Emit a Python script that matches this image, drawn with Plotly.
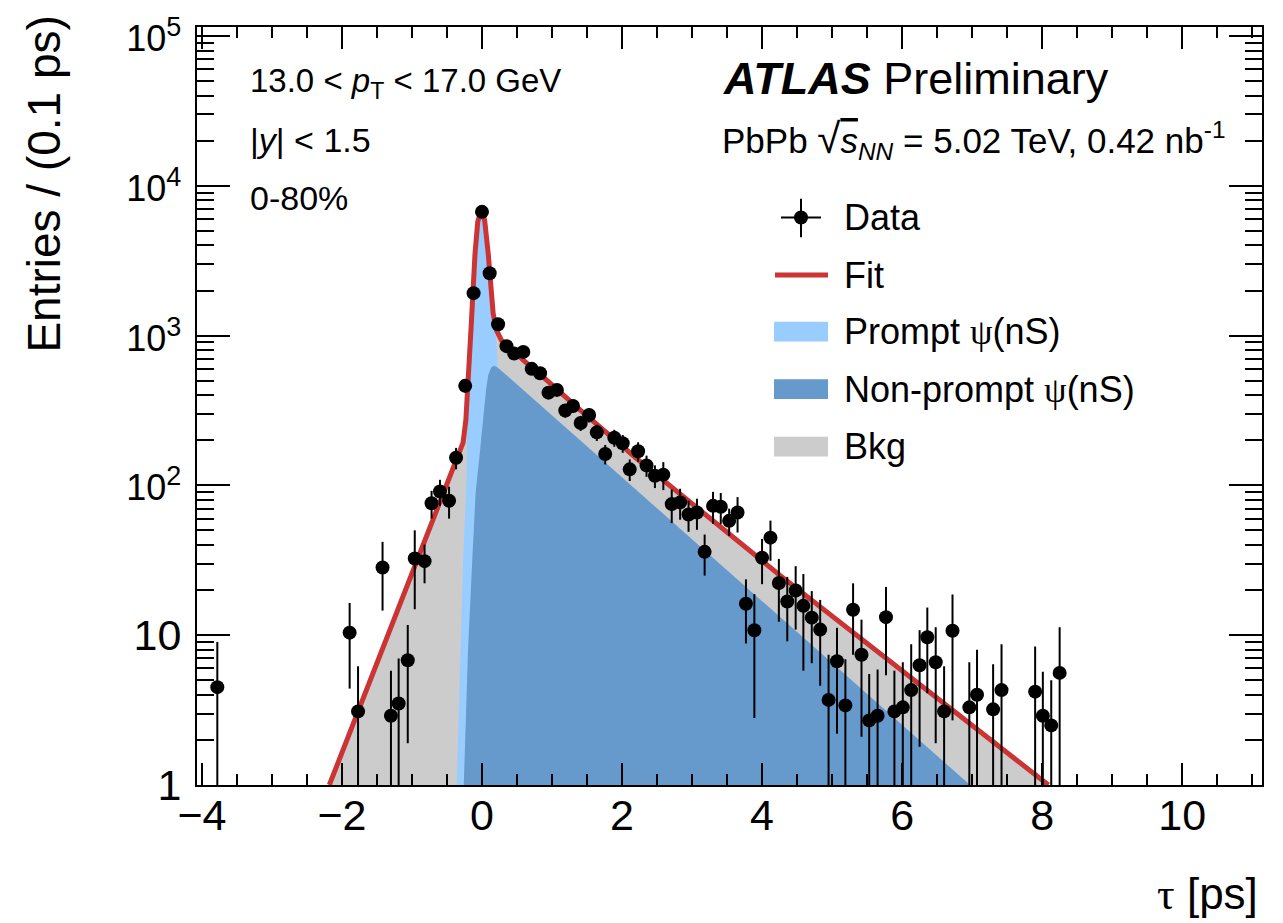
import plotly.graph_objects as go

# ---------------- data ----------------
tau = [-3.78, -1.89, -1.77, -1.42, -1.30, -1.19, -1.06, -0.96, -0.82, -0.72,
       -0.60, -0.47, -0.37, -0.24, -0.12, 0.00, 0.11, 0.23, 0.35, 0.46,
       0.59, 0.71, 0.83, 0.95, 1.07, 1.19, 1.30, 1.41, 1.53, 1.64,
       1.76, 1.89, 2.01, 2.11, 2.23, 2.35, 2.47, 2.59, 2.71, 2.83,
       2.95, 3.07, 3.18, 3.30, 3.41, 3.53, 3.65, 3.77, 3.89, 4.00,
       4.12, 4.24, 4.36, 4.48, 4.59, 4.71, 4.83, 4.95, 5.07, 5.19,
       5.30, 5.42, 5.53, 5.65, 5.77, 5.89, 6.01, 6.13, 6.25, 6.36,
       6.48, 6.60, 6.72, 6.96, 7.07, 7.30, 7.42, 7.90, 8.01, 8.13, 8.25]
counts = [4.5, 10.4, 3.1, 28.3, 2.9, 3.5, 6.8, 32.5, 31.2, 76,
          91, 79, 153, 462, 1920, 6700, 2610, 1190, 850, 760,
          778, 600, 560, 416, 434, 316, 339, 261, 295, 226,
          162, 208, 191, 128, 169, 136, 116, 118, 75, 77,
          64, 66, 36, 73, 72, 58, 66, 16.2, 10.8, 32.9,
          44.8, 22.3, 16.8, 19.9, 15.7, 13.1, 10.9, 3.7, 6.7, 3.4,
          14.8, 7.4, 2.7, 2.9, 13.2, 3.1, 3.3, 4.3, 6.3, 9.7,
          6.6, 3.1, 10.7, 3.3, 4.0, 3.2, 4.3, 4.2, 2.9, 2.5, 5.6]
errors = [4.5, 6.0, 3.1, 13.7, 2.9, 3.5, 4.9, 17.6, 9.0, 16,
          18, 19, 25, 45, 90, 170, 110, 70, 55, 52,
          52, 45, 43, 38, 38, 33, 34, 30, 32, 28,
          24, 27, 26, 21, 25, 22, 20, 25, 19, 18,
          15, 15.5, 11, 17.5, 17, 12, 17.5, 7.4, 8, 11,
          13.4, 10, 7.7, 9, 9.9, 6.6, 6.3, 3.7, 4.5, 3.5,
          7.4, 5.3, 2.8, 3.0, 7.8, 2.7, 3.3, 4.4, 4.5, 5.6,
          4.7, 3.1, 8.0, 3.3, 4.0, 3.2, 4.4, 4.2, 2.8, 2.5, 5.7]

# total fit (red) curve
fit_tau = [-2.18, -0.45, -0.36, -0.27, -0.23, -0.20, -0.15, -0.10, -0.06, 0.00,
           0.04, 0.09, 0.12, 0.16, 0.21, 0.28, 0.40, 0.59, 0.92, 1.40, 2.21, 4.26, 8.09]
fit_val = [1.0, 120, 149, 193, 274, 459, 1257, 3491, 5777, 7040,
           5777, 3491, 2112, 1399, 1079, 927, 841, 686, 506, 319, 151, 25, 1.0]
# prompt + non-prompt signal (light blue)
sig_tau = [-0.36, -0.31, -0.27, -0.22, -0.21, -0.19, -0.15, -0.10, -0.06, 0.00,
           0.04, 0.09, 0.12, 0.16, 0.19, 0.225, 0.26, 6.97]
sig_val = [1.0, 6.7, 30.9, 113, 261, 459, 1257, 3491, 5777, 7040,
           5777, 3491, 2112, 1399, 1164, 620, 591, 1.0]
# non-prompt (dark blue)
np_tau = [-0.26, -0.20, -0.14, -0.09, -0.04, 0.00, 0.03, 0.06, 0.09, 0.13,
          0.17, 0.21, 0.26, 6.97]
np_val = [1.0, 7.8, 30.9, 90, 150, 220, 320, 440, 545, 610,
          630, 618, 592, 1.0]

x_ticks = [-4, -2, 0, 2, 4, 6, 8, 10]
y_ticks = [1, 10, 100, 1000, 10000, 100000]
y_exp = ["", "", "2", "3", "4", "5"]

# ---------------- layout geometry ----------------
W, H = 1283, 923
L, R, T, B = 197, 1262, 21, 785
FONT = "Liberation Sans"
SER = "Liberation Serif"


def px(xp):
    return (xp - L) / (R - L)


def py(yp):
    return (B - yp) / (B - T)


def ylabel(v, e):
    if not e:
        return str(v)
    return ("<span style='font-size:36px'>10<sup><span style='font-size:27px'>%s</span></sup></span>" % e)


y_ticktext = [ylabel(v, e) for v, e in zip(y_ticks, y_exp)]

fig = go.Figure()
fig.add_trace(go.Scatter(x=fit_tau, y=fit_val, mode="lines", line=dict(width=0, color="#cccccc"),
                         fill="tozeroy", fillcolor="#cccccc", hoverinfo="skip", showlegend=False))
fig.add_trace(go.Scatter(x=sig_tau, y=sig_val, mode="lines", line=dict(width=0, color="#99ccff"),
                         fill="tozeroy", fillcolor="#99ccff", hoverinfo="skip", showlegend=False))
fig.add_trace(go.Scatter(x=np_tau, y=np_val, mode="lines", line=dict(width=0, color="#6699cc"),
                         fill="tozeroy", fillcolor="#6699cc", hoverinfo="skip", showlegend=False))
fig.add_trace(go.Scatter(x=fit_tau, y=fit_val, mode="lines", line=dict(width=5, color="#cc3333"),
                         showlegend=False))
fig.add_trace(go.Scatter(x=tau, y=counts, mode="markers",
                         marker=dict(color="black", size=14),
                         error_y=dict(type="data", array=errors, color="black", thickness=2, width=0),
                         showlegend=False))

minor_y = [m * 10 ** e for e in range(0, 5) for m in range(2, 10)]

fig.update_layout(
    width=W, height=H, autosize=False,
    margin=dict(l=L, r=W - R, t=T, b=H - B),
    paper_bgcolor="white", plot_bgcolor="white",
    font=dict(family=FONT, color="black"),
    showlegend=False,
    xaxis=dict(range=[-4.07, 11.14], tickmode="array", tickvals=x_ticks,
               ticks="inside", ticklen=22, tickwidth=2, tickcolor="black",
               showline=True, linewidth=2, linecolor="black", mirror="allticks",
               showgrid=False, zeroline=False, tickfont=dict(size=43, family=FONT),
               ticklabelstandoff=-9,
               minor=dict(dtick=0.5, tick0=0, ticks="inside", ticklen=11, tickwidth=2,
                          tickcolor="black", showgrid=False)),
    yaxis=dict(type="log", range=[0, 5.06], tickmode="array", tickvals=y_ticks, ticktext=y_ticktext,
               ticks="inside", ticklen=33, tickwidth=2, tickcolor="black",
               showline=True, linewidth=2, linecolor="black", mirror="allticks",
               showgrid=False, zeroline=False, tickfont=dict(size=43, family=FONT),
               ticklabelstandoff=5,
               minor=dict(tickmode="array", tickvals=minor_y, ticks="inside", ticklen=17,
                          tickwidth=2, tickcolor="black", showgrid=False)),
)

ann = []
ann.append(dict(text="Entries / (0.1 ps)", x=px(44), y=py(8), xanchor="center", yanchor="top",
                textangle=-90, font=dict(size=46)))
ann.append(dict(text="<span style='font-family:%s'>τ</span> [ps]" % SER, x=px(1260), y=py(895),
                xanchor="right", yanchor="middle", font=dict(size=44)))
ann.append(dict(text="13.0 &lt; <i>p</i><sub>T</sub> &lt; 17.0 GeV", x=px(248), y=py(77),
                xanchor="left", yanchor="middle", font=dict(size=33)))
ann.append(dict(text="|<i>y</i>| &lt; 1.5", x=px(248), y=py(135),
                xanchor="left", yanchor="middle", font=dict(size=34)))
ann.append(dict(text="0-80%", x=px(248), y=py(193),
                xanchor="left", yanchor="middle", font=dict(size=34)))
ann.append(dict(text="<b><i>ATLAS</i></b> Preliminary", x=px(721), y=py(73),
                xanchor="left", yanchor="middle", font=dict(size=45)))
ann.append(dict(text="PbPb <span style='font-size:42px'>√</span><span style='text-decoration:overline'><i>s</i></span><sub><i>NN</i></sub> = 5.02 TeV, 0.42 nb<sup>-1</sup>",
                x=px(720), y=py(135), xanchor="left", yanchor="middle", font=dict(size=35)))

legend_rows = [("Data", 213), ("Fit", 271),
               ("Prompt <span style='font-family:%s'>ψ</span>(nS)" % SER, 328),
               ("Non-prompt <span style='font-family:%s'>ψ</span>(nS)" % SER, 386),
               ("Bkg", 444)]
for txt, yy in legend_rows:
    ann.append(dict(text=txt, x=px(842), y=py(yy), xanchor="left", yanchor="middle", font=dict(size=36)))

for a in ann:
    a.update(xref="paper", yref="paper", showarrow=False)
fig.update_layout(annotations=ann)

shapes = []
# Data legend symbol
shapes.append(dict(type="line", xref="paper", yref="paper", x0=px(781), x1=px(821), y0=py(213), y1=py(213),
                   line=dict(color="black", width=2)))
shapes.append(dict(type="line", xref="paper", yref="paper", x0=px(801), x1=px(801), y0=py(194), y1=py(233),
                   line=dict(color="black", width=2)))
shapes.append(dict(type="circle", xref="paper", yref="paper", xsizemode="pixel", ysizemode="pixel",
                   xanchor=px(801), yanchor=py(213), x0=-7, x1=7, y0=-7, y1=7,
                   fillcolor="black", line=dict(color="black", width=0)))
# Fit legend symbol
shapes.append(dict(type="line", xref="paper", yref="paper", x0=px(775), x1=px(828), y0=py(271), y1=py(271),
                   line=dict(color="#cc3333", width=5)))
for col, yy in [("#99ccff", 328), ("#6699cc", 386), ("#cccccc", 444)]:
    shapes.append(dict(type="rect", xref="paper", yref="paper", x0=px(774), x1=px(828),
                       y0=py(yy - 10), y1=py(yy + 10), fillcolor=col, line=dict(width=0)))
fig.update_layout(shapes=shapes)

fig.write_html("out.html")
